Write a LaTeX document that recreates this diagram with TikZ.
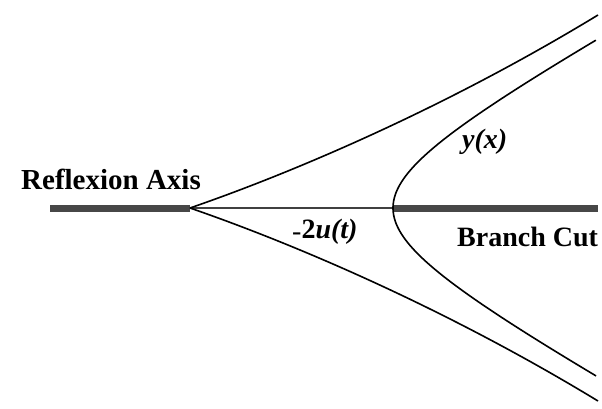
\documentclass[tikz,border=0pt]{standalone}
\usepackage{fontspec}
\setmainfont{Liberation Serif}
\begin{document}
\begin{tikzpicture}[x=1pt,y=-1pt,
  curve/.style={line width=1.6pt,black},
  bar/.style={line width=7pt,draw=black!72},
  midline/.style={line width=1.6pt,draw=black!75},
  lbl/.style={inner sep=0pt,anchor=base west,font=\fontsize{28}{30}\selectfont\bfseries},
  mlbl/.style={inner sep=0pt,anchor=base west,font=\fontsize{28}{30}\selectfont\bfseries\itshape}]
\useasboundingbox (0,0) rectangle (602,409);
\fill[white] (0,0) rectangle (602,409);
% key points
\coordinate (axisend) at (50,208);
\coordinate (cusp) at (190,208);
\coordinate (vertex) at (393,208);
\coordinate (cutend) at (598,208);
\coordinate (upend) at (598,15);
\coordinate (lowend) at (598,401);
% bars and middle line
\draw[bar] (axisend) -- (cusp);
\draw[bar] (vertex) -- (cutend);
\draw[midline] (cusp) -- (vertex);
% cusp curves
\draw[curve] (cusp) .. controls (300,170) and (450,105) .. (upend);
\draw[curve] (cusp) .. controls (300,246) and (450,311) .. (lowend);
% hyperbola
\draw[curve] plot[domain=-1.609:1.609,samples=80,variable=\t,smooth]
  ({266+127*cosh(\t)},{208-70*sinh(\t)});
% labels
\node[lbl,font=\fontsize{29}{31}\selectfont\bfseries] (refl) at (21,189) {Reflexion Axis};
\node[lbl] (cut) at (457,246) {Branch Cut};
\node[mlbl] (yx) at (462,149) {y(x)};
\node[lbl] (ut) at (292,238) {{\mdseries\raisebox{-2pt}{-}}2\textit{u(t)}};
\end{tikzpicture}
\end{document}
